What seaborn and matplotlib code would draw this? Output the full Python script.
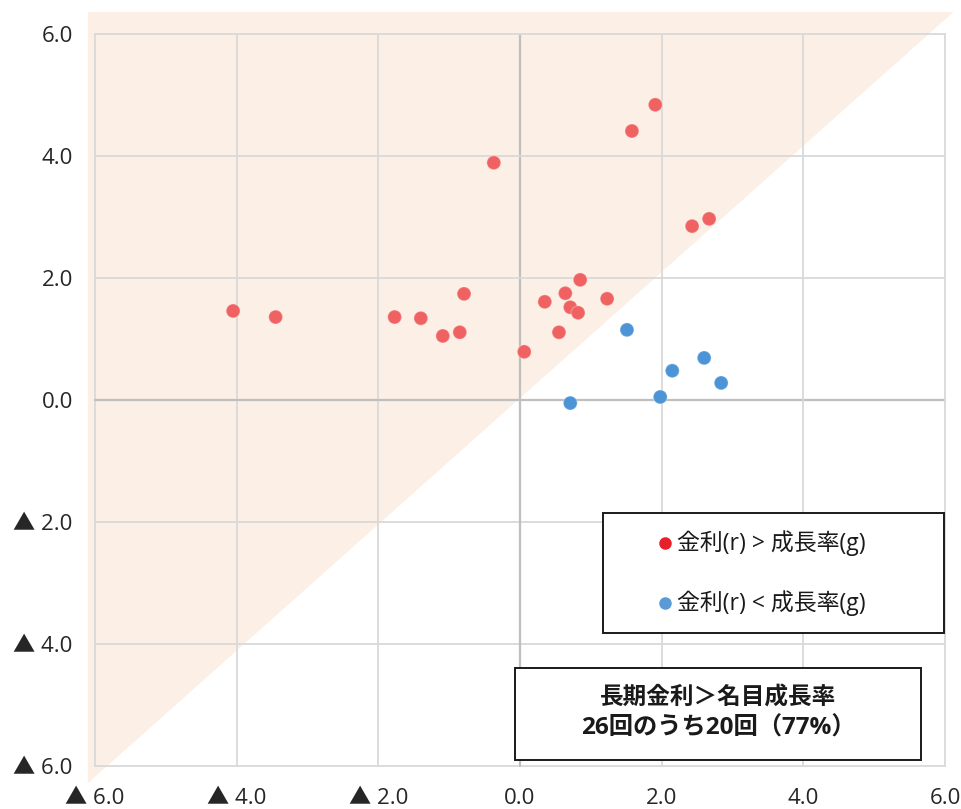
import matplotlib
matplotlib.use("Agg")
import matplotlib.pyplot as plt
import seaborn as sns
import pandas as pd
from matplotlib.patches import Polygon, Rectangle
from matplotlib.lines import Line2D

# growth-rate (x) and long-term rate gap (y) readings
red_x = [-4.05, -3.45, -1.77, -1.40, -1.09, -0.85, -0.79, -0.37, 0.06, 0.35,
         0.55, 0.64, 0.71, 0.82, 0.85, 1.23, 1.58, 1.91, 2.43, 2.67]
red_y = [1.46, 1.36, 1.36, 1.34, 1.05, 1.11, 1.74, 3.89, 0.79, 1.61,
         1.11, 1.75, 1.52, 1.43, 1.97, 1.66, 4.41, 4.84, 2.85, 2.97]
blue_x = [1.51, 0.71, 1.98, 2.15, 2.60, 2.84]
blue_y = [1.15, -0.05, 0.05, 0.48, 0.69, 0.28]

label_hi = "金利(r) > 成長率(g)"
label_lo = "金利(r) < 成長率(g)"
ticks = [-6, -4, -2, 0, 2, 4, 6]
tick_labels = ["▲ 6.0", "▲ 4.0", "▲ 2.0", "0.0", "2.0", "4.0", "6.0"]
note_lines = ["長期金利＞名目成長率", "26回のうち20回（77%）"]

df = pd.DataFrame({
    "x": red_x + blue_x,
    "y": red_y + blue_y,
    "group": [label_hi] * len(red_x) + [label_lo] * len(blue_x),
})

sns.set_theme(style="white")
plt.rcParams["font.family"] = ["Open Sans", "Noto Sans CJK JP", "DejaVu Sans"]

W, H = 961, 809
fig = plt.figure(figsize=(W / 100, H / 100), dpi=100)
ax = fig.add_axes([95 / W, 1 - 766 / H, (945 - 95) / W, (766 - 34) / H])
ax.set_xlim(-6, 6)
ax.set_ylim(-6, 6)

# shaded region above the 45-degree line
tri = Polygon([(-6.1, 6.36), (6.12, 6.36), (-6.1, -6.28)], closed=True,
              facecolor="#FBEFE6", edgecolor="none", zorder=0, clip_on=False)
ax.add_patch(tri)

# grid
for t in ticks:
    c = "#BFBFBF" if t == 0 else "#D9D9D9"
    lw = 1.6 if t == 0 else 1.3
    ax.axvline(t, color=c, lw=lw, zorder=1, clip_on=False)
    ax.axhline(t, color=c, lw=lw, zorder=1, clip_on=False)

sns.scatterplot(data=df, x="x", y="y", hue="group",
                palette={label_hi: "#F06161", label_lo: "#4C94D5"},
                s=100, linewidth=1.0, ax=ax, legend=False, zorder=3)
for c in ax.collections:
    fc = c.get_facecolors()
    if len(fc):
        c.set_edgecolors([(1, 1, 1, 0.25)] * len(fc))

for s in ax.spines.values():
    s.set_visible(False)
ax.set_xticks(ticks)
ax.set_yticks(ticks)
ax.set_xticklabels(tick_labels)
ax.set_yticklabels(tick_labels)
ax.tick_params(axis="both", length=0, labelsize=16, colors="#262626")
ax.tick_params(axis="x", pad=16)
ax.tick_params(axis="y", pad=16)
ax.set_xlabel("")
ax.set_ylabel("")

# legend box
fig.add_artist(Rectangle((603 / W, 1 - 633 / H), (944 - 603) / W, (633 - 513) / H,
                         transform=fig.transFigure, facecolor="white",
                         edgecolor="#1a1a1a", lw=1.4, zorder=5))
for yy, col, lab in [(543, "#E8202A", label_hi), (603, "#5B9BD5", label_lo)]:
    fig.add_artist(Line2D([665 / W], [1 - yy / H], marker="o", markersize=8,
                          color=col, linestyle="none", transform=fig.transFigure,
                          zorder=6))
    fig.text(677 / W, 1 - yy / H, lab, fontsize=16.5, va="center", ha="left",
             color="#1a1a1a", zorder=6)

# note box
fig.add_artist(Rectangle((515 / W, 1 - 760 / H), (921 - 515) / W, (760 - 668) / H,
                         transform=fig.transFigure, facecolor="white",
                         edgecolor="#1a1a1a", lw=1.4, zorder=5))
fig.text(718 / W, 1 - 699 / H, note_lines[0], fontsize=17, fontweight="bold",
         ha="center", va="center", color="#1a1a1a", zorder=6)
fig.text(718 / W, 1 - 729 / H, note_lines[1], fontsize=17.5, fontweight="bold",
         ha="center", va="center", color="#1a1a1a", zorder=6)

fig.savefig("out.png", dpi=100)
